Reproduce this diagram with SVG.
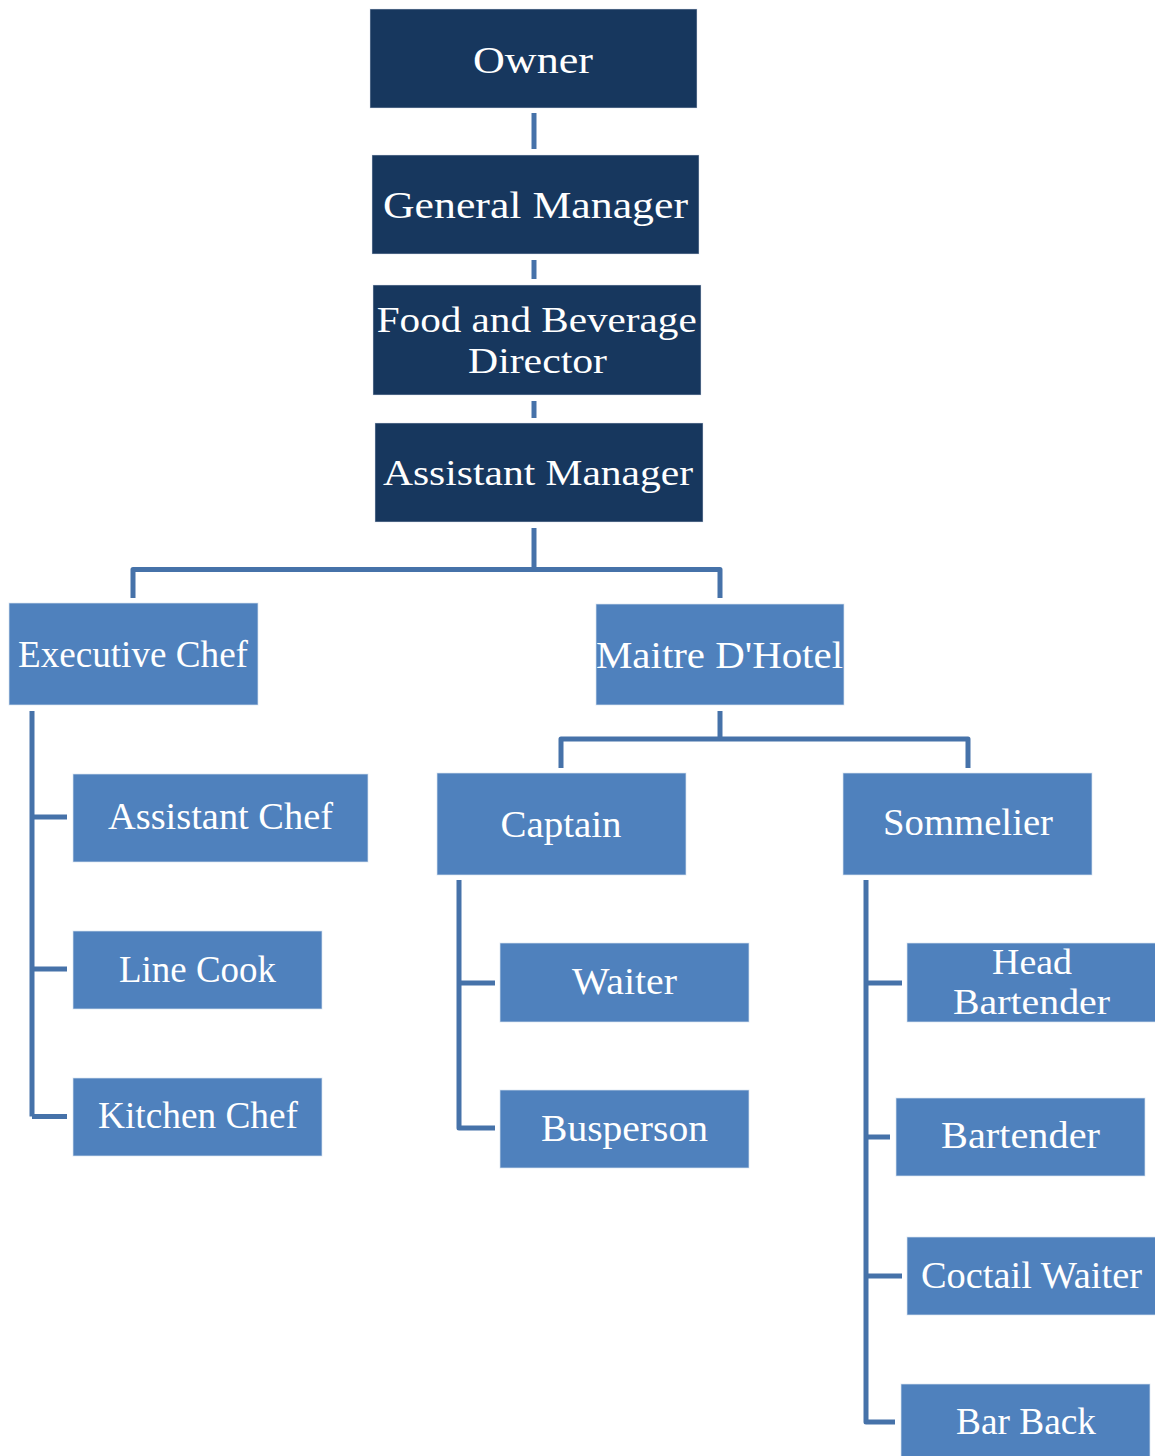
<svg xmlns="http://www.w3.org/2000/svg" width="1155" height="1456" viewBox="0 0 1155 1456">
  <style>
    .dark { fill: #17375E; stroke: #dfe6f0; stroke-width: 1; stroke-opacity: 0.5; }
    .light { fill: #4F81BD; stroke: #dbe5f1; stroke-width: 1; stroke-opacity: 0.7; }
    .lbl { font-family: "Liberation Serif", "DejaVu Serif", serif; fill: #ffffff; text-anchor: middle; }
    .conn { fill: none; stroke: #4672A9; stroke-width: 5; stroke-linejoin: round; stroke-linecap: butt; }
  </style>
  <rect width="1155" height="1456" fill="#ffffff"/>

  <!-- connectors -->
  <g id="connectors" class="conn">
    <path d="M534,113 V149"/>
    <path d="M534,260 V279"/>
    <path d="M534,401 V418"/>
    <path d="M534,528 V569.5"/>
    <path d="M133,598 V569.5 H720 V598"/>
    <path d="M720,711 V739"/>
    <path d="M561,768 V739 H968 V768"/>
    <path d="M67,817 H32 V711 M32,1116.5 H67 M32,969 H67 M32,817 V1116.5"/>
    <path d="M459,880 V1128 H495 M459,983 H495"/>
    <path d="M866,880 V1422 H895 M866,983 H902 M866,1137 H890 M866,1276 H902"/>
  </g>

  <!-- top chain -->
  <g id="owner">
    <rect class="dark" x="370" y="9" width="327" height="99"/>
    <text class="lbl" x="533" y="73" font-size="38" textLength="120" lengthAdjust="spacingAndGlyphs">Owner</text>
  </g>
  <g id="general-manager">
    <rect class="dark" x="372" y="155" width="327" height="99"/>
    <text class="lbl" x="535.5" y="218" font-size="38" textLength="305" lengthAdjust="spacingAndGlyphs">General Manager</text>
  </g>
  <g id="food-beverage-director">
    <rect class="dark" x="373" y="285" width="328" height="110"/>
    <text class="lbl" x="536.7" y="332" font-size="36" textLength="320" lengthAdjust="spacingAndGlyphs">Food and Beverage</text>
    <text class="lbl" x="537.5" y="373" font-size="36" textLength="139" lengthAdjust="spacingAndGlyphs">Director</text>
  </g>
  <g id="assistant-manager">
    <rect class="dark" x="375" y="423" width="328" height="99"/>
    <text class="lbl" x="538" y="485" font-size="36" textLength="310" lengthAdjust="spacingAndGlyphs">Assistant Manager</text>
  </g>

  <!-- second level -->
  <g id="executive-chef">
    <rect class="light" x="9" y="603" width="249" height="102"/>
    <text class="lbl" x="133" y="667" font-size="37" textLength="230" lengthAdjust="spacingAndGlyphs">Executive Chef</text>
  </g>
  <g id="maitre-d-hotel">
    <rect class="light" x="596" y="604" width="248" height="101"/>
    <text class="lbl" x="719.5" y="668" font-size="37" textLength="247" lengthAdjust="spacingAndGlyphs">Maitre D'Hotel</text>
  </g>

  <!-- kitchen -->
  <g id="assistant-chef">
    <rect class="light" x="73" y="774" width="295" height="88"/>
    <text class="lbl" x="220.5" y="829" font-size="37" textLength="225" lengthAdjust="spacingAndGlyphs">Assistant Chef</text>
  </g>
  <g id="line-cook">
    <rect class="light" x="73" y="931" width="249" height="78"/>
    <text class="lbl" x="197.5" y="982" font-size="37" textLength="157" lengthAdjust="spacingAndGlyphs">Line Cook</text>
  </g>
  <g id="kitchen-chef">
    <rect class="light" x="73" y="1078" width="249" height="78"/>
    <text class="lbl" x="198" y="1128" font-size="37" textLength="200" lengthAdjust="spacingAndGlyphs">Kitchen Chef</text>
  </g>

  <!-- front of house -->
  <g id="captain">
    <rect class="light" x="437" y="773" width="249" height="102"/>
    <text class="lbl" x="561" y="837" font-size="37" textLength="121" lengthAdjust="spacingAndGlyphs">Captain</text>
  </g>
  <g id="sommelier">
    <rect class="light" x="843" y="773" width="249" height="102"/>
    <text class="lbl" x="968" y="835" font-size="37" textLength="170" lengthAdjust="spacingAndGlyphs">Sommelier</text>
  </g>
  <g id="waiter">
    <rect class="light" x="500" y="943" width="249" height="79"/>
    <text class="lbl" x="624.5" y="994" font-size="37" textLength="105" lengthAdjust="spacingAndGlyphs">Waiter</text>
  </g>
  <g id="busperson">
    <rect class="light" x="500" y="1090" width="249" height="78"/>
    <text class="lbl" x="624.5" y="1141" font-size="37" textLength="167" lengthAdjust="spacingAndGlyphs">Busperson</text>
  </g>

  <!-- bar -->
  <g id="head-bartender">
    <rect class="light" x="907" y="943" width="250" height="79"/>
    <text class="lbl" x="1032" y="974" font-size="35" textLength="80" lengthAdjust="spacingAndGlyphs">Head</text>
    <text class="lbl" x="1031.5" y="1014" font-size="35" textLength="157" lengthAdjust="spacingAndGlyphs">Bartender</text>
  </g>
  <g id="bartender">
    <rect class="light" x="896" y="1098" width="249" height="78"/>
    <text class="lbl" x="1020.5" y="1148" font-size="37" textLength="159" lengthAdjust="spacingAndGlyphs">Bartender</text>
  </g>
  <g id="coctail-waiter">
    <rect class="light" x="907" y="1237" width="250" height="78"/>
    <text class="lbl" x="1031.5" y="1288" font-size="37" textLength="221" lengthAdjust="spacingAndGlyphs">Coctail Waiter</text>
  </g>
  <g id="bar-back">
    <rect class="light" x="901" y="1384" width="249" height="80"/>
    <text class="lbl" x="1026" y="1434" font-size="37" textLength="140" lengthAdjust="spacingAndGlyphs">Bar Back</text>
  </g>
</svg>
